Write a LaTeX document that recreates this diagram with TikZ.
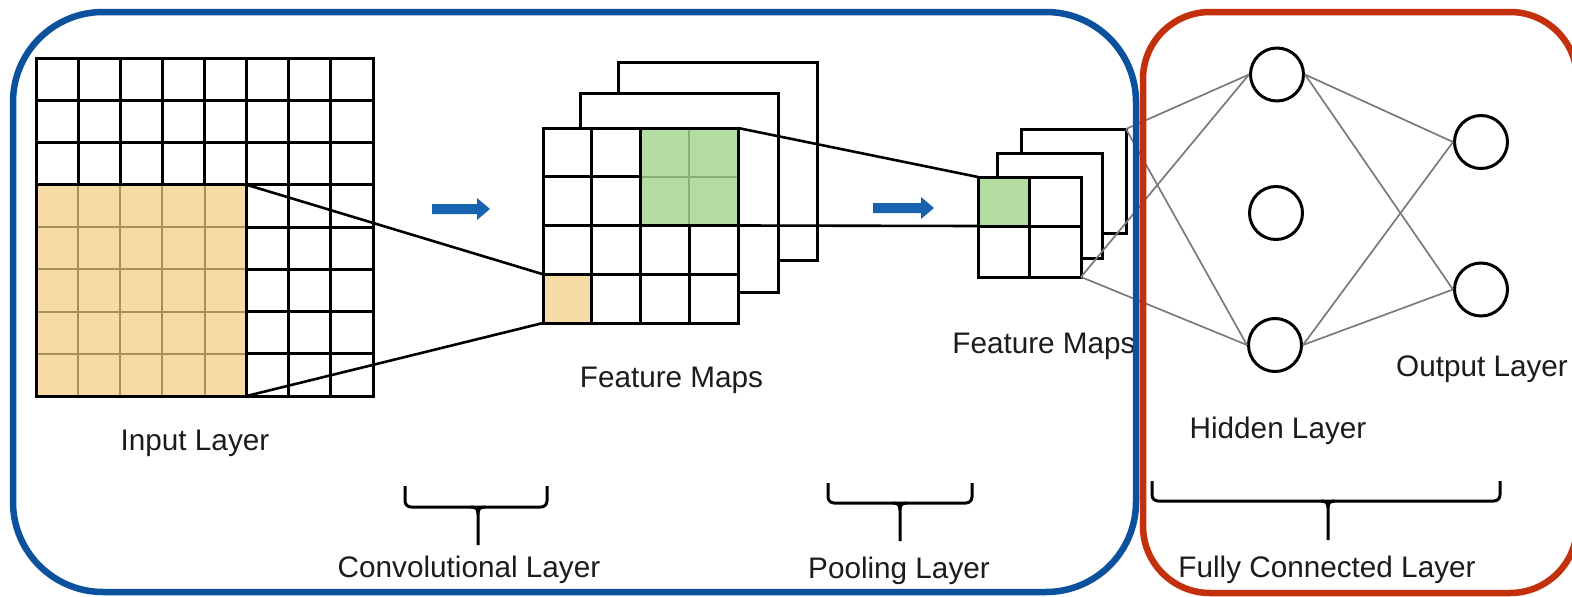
\documentclass[tikz,border=0pt]{standalone}
\usepackage{fontspec}
\setmainfont{Liberation Sans}
\definecolor{frameblue}{HTML}{0B519E}
\definecolor{framered}{HTML}{C2300C}
\definecolor{kernel}{HTML}{F6DBA5}
\definecolor{kernelline}{HTML}{A8915C}
\definecolor{poolfill}{HTML}{B4DCA2}
\definecolor{poolline}{HTML}{86B276}
\definecolor{arrowblue}{HTML}{1763B0}
\definecolor{wirecol}{HTML}{7A7A7A}
\definecolor{labeltext}{HTML}{1C1C1C}
\begin{document}
\begin{tikzpicture}[x=1pt,y=-1pt,
  gridline/.style={line width=3pt,black,line cap=rect},
  softline/.style={line width=2pt},
  sheet/.style={draw=black,line width=3pt,fill=white},
  border/.style={draw=black,line width=3pt},
  link/.style={draw=black,line width=2.6pt},
  neuron/.style={circle,draw=black,line width=3pt,fill=white,minimum size=53pt,inner sep=0pt},
  wire/.style={draw=wirecol,line width=1.7pt},
  label/.style={font=\fontsize{29.7}{34}\selectfont,text=labeltext,anchor=base,inner sep=0pt},
  brace/.style={draw=black,line width=3pt,rounded corners=6pt},
  flow/.style={fill=arrowblue}
]
\useasboundingbox (0,0) rectangle (1572,597);
\clip (0,0) rectangle (1572,597);
\fill[white] (0,0) rectangle (1572,597);

% ---------- input layer: 8x8 grid with a 5x5 kernel window ----------
\foreach \i in {1,...,7} {
  \draw[gridline] ({36+\i*42.125},58) -- ({36+\i*42.125},396);
  \draw[gridline] (36,{58+\i*42.25}) -- (373,{58+\i*42.25});
}
\fill[kernel] (37.5,186.25) rectangle (245.1,394.5);
\foreach \i in {1,...,4}
  \draw[softline,kernelline] ({36+\i*42.125},186.25) -- ({36+\i*42.125},394.5);
\foreach \i in {4,...,7}
  \draw[softline,kernelline] (37.5,{58+\i*42.25}) -- (245.1,{58+\i*42.25});
\draw[border] (36,58) rectangle (373,396);

\coordinate (inKne) at (246.6,184.75);
\coordinate (inKse) at (246.6,396);

% ---------- convolution feature maps ----------
\draw[sheet] (618,62) rectangle (817,260);
\draw[sheet] (580,93) rectangle (778,292);
\fill[white] (543,128) rectangle (738,323);
\fill[poolfill] (642,129.5) rectangle (736.5,224);
\fill[kernel] (544.5,275.75) rectangle (590.25,321.5);
\draw[softline,poolline] (689.25,129.5) -- (689.25,224);
\draw[softline,poolline] (642,176.75) -- (736.5,176.75);
\draw[gridline] (591.75,128) -- (591.75,323);
\draw[gridline] (640.5,128) -- (640.5,323);
\draw[gridline] (689.25,225.5) -- (689.25,323);
\draw[gridline] (543,176.75) -- (640.5,176.75);
\draw[gridline] (543,225.5) -- (738,225.5);
\draw[gridline] (543,274.25) -- (738,274.25);
\draw[border] (543,128) rectangle (738,323);

\coordinate (fmKnw) at (543,274.25);
\coordinate (fmKsw) at (543,323);
\coordinate (fmGne) at (738,128);
\coordinate (fmGse) at (738,225.5);

% ---------- pooled feature maps ----------
\draw[sheet] (1021,129) rectangle (1126,233);
\draw[sheet] (997,153) rectangle (1102,258);
\fill[white] (978,177) rectangle (1081,277);
\fill[poolfill] (979.5,178.5) rectangle (1027.5,224.5);
\draw[gridline] (1029,177) -- (1029,277);
\draw[gridline] (978,226) -- (1081,226);
\draw[border] (978,177) rectangle (1081,277);

\coordinate (plGnw) at (978,177);
\coordinate (plGsw) at (978,226);
\coordinate (plBackne) at (1126,129);
\coordinate (plFrontse) at (1081,277);

% ---------- receptive-field connectors ----------
\draw[link] (inKne) -- (fmKnw);
\draw[link] (inKse) -- (fmKsw);
\draw[link] (fmGne) -- (plGnw);
\draw[link] (fmGse) -- (plGsw);

% ---------- flow arrows ----------
\fill[flow] (432,204) -- (477,204) -- (477,198) -- (490,209) -- (477,220) -- (477,214) -- (432,214) -- cycle;
\fill[flow] (873,203) -- (921,203) -- (921,197) -- (934,208) -- (921,219) -- (921,213) -- (873,213) -- cycle;

% ---------- fully connected part ----------
\node[neuron] (h1) at (1277,74.5) {};
\node[neuron] (h2) at (1276,213) {};
\node[neuron] (h3) at (1275,345) {};
\node[neuron] (o1) at (1481,142) {};
\node[neuron] (o2) at (1481,289.5) {};

\draw[wire] (plBackne) -- (h1.west);
\draw[wire] (plBackne) -- (h3.west);
\draw[wire] (plFrontse) -- (h1.west);
\draw[wire] (plFrontse) -- (h3.west);
\draw[wire] (h1.east) -- (o1.west);
\draw[wire] (h1.east) -- (o2.west);
\draw[wire] (h3.east) -- (o1.west);
\draw[wire] (h3.east) -- (o2.west);

% ---------- labels ----------
\node[label] (lin) at (195,450) {Input Layer};
\node[label] (lfm1) at (671.5,387) {Feature Maps};
\node[label] (lfm2) at (1044,353) {Feature Maps};
\node[label] (lhid) at (1278,438) {Hidden Layer};
\node[label] (lout) at (1482,376) {Output Layer};
\node[label] (lconv) at (469,577) {Convolutional Layer};
\node[label] (lpool) at (899,578) {Pooling Layer};
\node[label] (lfc) at (1327,577) {Fully Connected Layer};

% ---------- group braces ----------
\draw[brace] (405,486) -- (405,507) -- (547,507) -- (547,486);
\draw[line width=3pt] (471,507) .. controls (476,507) and (478,509) .. (478,514) -- (478,545);
\draw[line width=3pt] (485,507) .. controls (480,507) and (478,509) .. (478,514);

\draw[brace] (828,483) -- (828,503) -- (972,503) -- (972,483);
\draw[line width=3pt] (893,503) .. controls (898,503) and (900,505) .. (900,510) -- (900,541);
\draw[line width=3pt] (907,503) .. controls (902,503) and (900,505) .. (900,510);

\draw[brace] (1152,481) -- (1152,501) -- (1500,501) -- (1500,481);
\draw[line width=3pt] (1321,501) .. controls (1326,501) and (1328,503) .. (1328,508) -- (1328,540);
\draw[line width=3pt] (1335,501) .. controls (1330,501) and (1328,503) .. (1328,508);

% ---------- group frames ----------
\draw[frameblue,line width=6.5pt,rounded corners=90pt] (13,12) rectangle (1136,592);
\draw[framered,line width=6.5pt,rounded corners=67pt] (1143,12) rectangle (1577,593);
\end{tikzpicture}
\end{document}
